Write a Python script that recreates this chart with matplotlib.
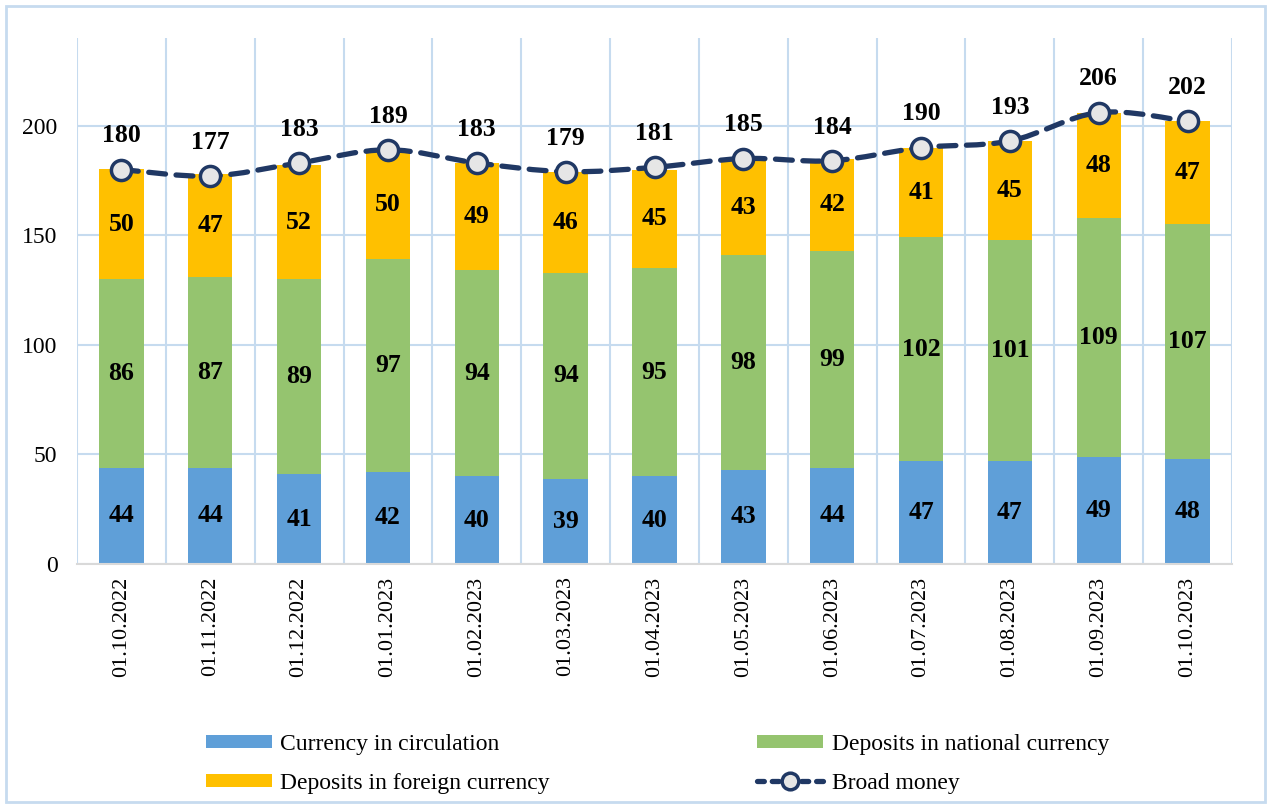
import numpy as np
import matplotlib
matplotlib.use("Agg")
import matplotlib.pyplot as plt
from matplotlib.path import Path
from matplotlib.patches import PathPatch, Rectangle, Patch
from matplotlib.lines import Line2D

dates = ["01.10.2022", "01.11.2022", "01.12.2022", "01.01.2023", "01.02.2023",
         "01.03.2023", "01.04.2023", "01.05.2023", "01.06.2023", "01.07.2023",
         "01.08.2023", "01.09.2023", "01.10.2023"]
currency = [44, 44, 41, 42, 40, 39, 40, 43, 44, 47, 47, 49, 48]
national = [86, 87, 89, 97, 94, 94, 95, 98, 99, 102, 101, 109, 107]
foreign = [50, 47, 52, 50, 49, 46, 45, 43, 42, 41, 45, 48, 47]
broad = [180, 177, 183, 189, 183, 179, 181, 185, 184, 190, 193, 206, 202]

c_blue = "#5F9FD8"
c_green = "#95C46F"
c_yellow = "#FFC000"
c_line = "#203864"
c_grid = "#C6DBEF"

plt.rcParams['font.family'] = ['Liberation Serif', 'DejaVu Serif']

fig = plt.figure(figsize=(12.69, 8.05), dpi=100)
ax = fig.add_axes([77/1269, 1-564/805, (1232-77)/1269, (564-38)/805])

x = np.arange(len(dates))
w = 0.5
cur = np.array(currency); nat = np.array(national); frg = np.array(foreign)
ax.bar(x, cur, w, color=c_blue, zorder=2)
ax.bar(x, nat, w, bottom=cur, color=c_green, zorder=2)
ax.bar(x, frg, w, bottom=cur+nat, color=c_yellow, zorder=2)

lab_kw = dict(ha='center', va='center', fontsize=18.5, fontweight='bold', color='black', zorder=5)
for i in x:
    ax.text(i, cur[i]/2, str(cur[i]), **lab_kw)
    ax.text(i, cur[i] + nat[i]/2, str(nat[i]), **lab_kw)
    ax.text(i, cur[i] + nat[i] + frg[i]/2, str(frg[i]), **lab_kw)

# smoothed line (Catmull-Rom as cubic Bezier path)
yb = np.array(broad, dtype=float)
xs = x.astype(float)
verts = [(xs[0], yb[0])]
codes = [Path.MOVETO]
t = 1/6
n = len(xs)
for i in range(n-1):
    p0 = (xs[max(i-1, 0)], yb[max(i-1, 0)])
    p1 = (xs[i], yb[i])
    p2 = (xs[i+1], yb[i+1])
    p3 = (xs[min(i+2, n-1)], yb[min(i+2, n-1)])
    c1 = (p1[0] + (p2[0]-p0[0])*t, p1[1] + (p2[1]-p0[1])*t)
    c2 = (p2[0] - (p3[0]-p1[0])*t, p2[1] - (p3[1]-p1[1])*t)
    verts += [c1, c2, p2]
    codes += [Path.CURVE4]*3
path = Path(verts, codes)
pp = PathPatch(path, facecolor='none', edgecolor=c_line, lw=3.8,
               linestyle=(0, (3.2, 2.0)), capstyle='round', zorder=6)
ax.add_patch(pp)
ax.plot(xs, yb, linestyle='none', marker='o', markersize=14.5,
        markerfacecolor='#E6E6E6', markeredgecolor=c_line, markeredgewidth=2.5, zorder=7)
for i in x:
    ax.annotate(str(broad[i]), (xs[i], yb[i]), xytext=(0, 19.5), textcoords='offset points',
                ha='center', va='baseline', fontsize=18.5, fontweight='bold', zorder=8)

ax.set_xlim(-0.5, len(dates)-0.5)
ax.set_ylim(0, 240)
ax.set_yticks([0, 50, 100, 150, 200])
ax.set_xticks(x)
ax.set_xticklabels(dates, rotation=90, fontsize=16)
ax.tick_params(axis='y', length=0, pad=14, labelsize=17)
ax.tick_params(axis='x', length=0, pad=9)
ax.yaxis.grid(True, color=c_grid, lw=1.5, zorder=0)
for b in np.arange(-0.5, len(dates), 1.0):
    ax.axvline(b, color=c_grid, lw=1.5, zorder=0)
for s in ['top', 'right', 'left']:
    ax.spines[s].set_visible(False)
ax.spines['bottom'].set_color('#D9D9D9')
ax.spines['bottom'].set_linewidth(1.5)
ax.spines['bottom'].set_zorder(3)

# legend
h_cur = Patch(facecolor=c_blue)
h_nat = Patch(facecolor=c_green)
h_frg = Patch(facecolor=c_yellow)
h_bm = Line2D([], [], color=c_line, lw=3.8, linestyle=(0, (1.3, 1.5)), dash_capstyle='round',
              marker='o', markersize=12, markerfacecolor='#E6E6E6', markeredgecolor=c_line,
              markeredgewidth=2.5)
fig.legend([h_cur, h_frg, h_nat, h_bm],
           ["Currency in circulation", "Deposits in foreign currency",
            "Deposits in national currency", "Broad money"],
           ncol=2, loc='center', bbox_to_anchor=(0.518, 1-764/805), frameon=False,
           fontsize=17, handlelength=2.8, handleheight=0.5, columnspacing=8.8,
           labelspacing=0.75, handletextpad=0.35)

fig.patches.append(Rectangle((6/1269, 3/805), 1259/1269, 796/805, transform=fig.transFigure,
                             facecolor='none', edgecolor=c_grid, lw=2))

fig.savefig("out.png", dpi=100)
